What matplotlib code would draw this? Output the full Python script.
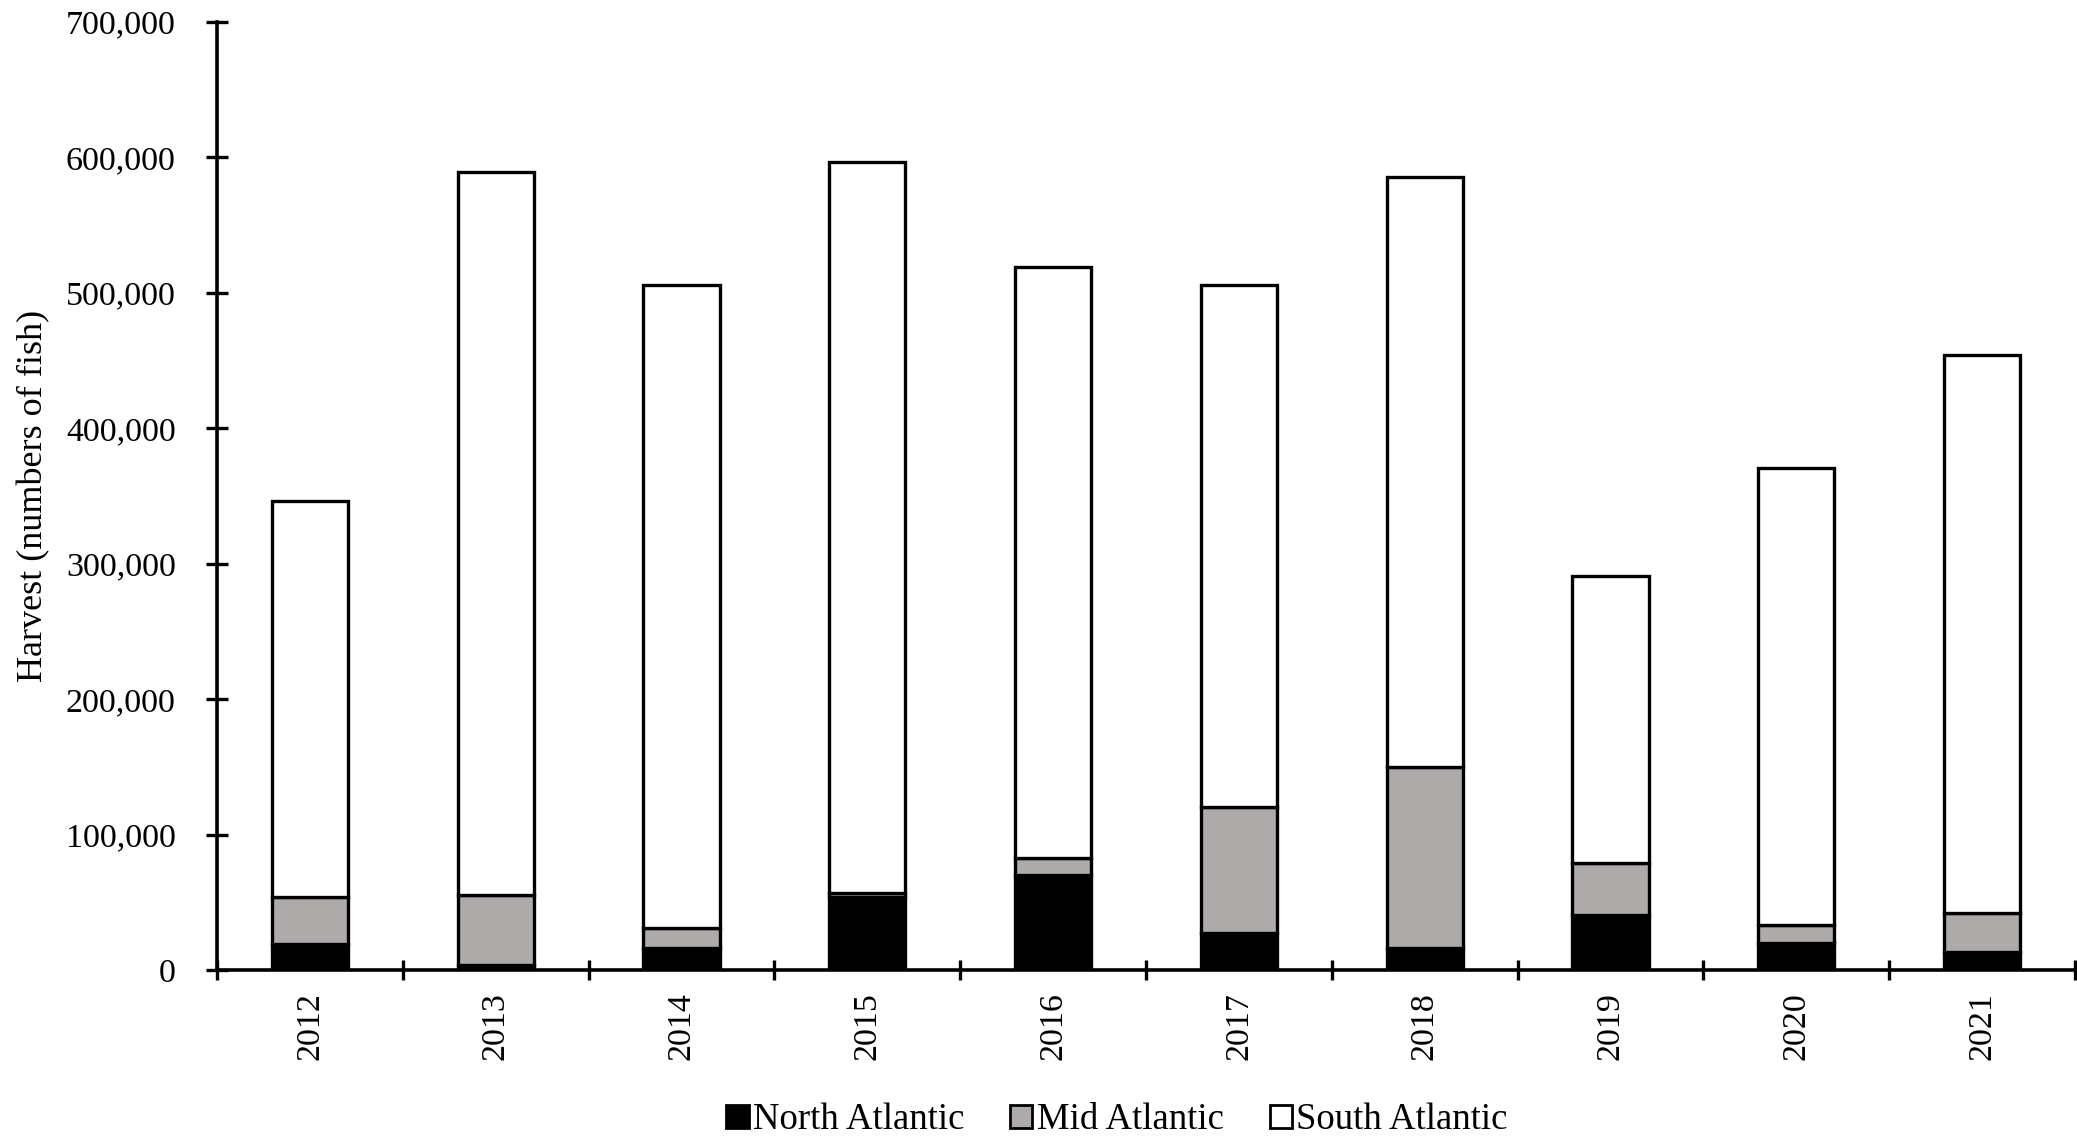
import numpy as np
import matplotlib
matplotlib.use('Agg')
import matplotlib.pyplot as plt
from matplotlib.patches import Patch
from matplotlib.ticker import FuncFormatter, FixedLocator

plt.rcParams['font.family'] = 'Liberation Serif'

years = ['2012', '2013', '2014', '2015', '2016', '2017', '2018', '2019', '2020', '2021']
north_atlantic = [19200, 3700, 16500, 53700, 70100, 27500, 16500, 40600, 19700, 13500]
mid_atlantic = [34500, 51700, 14700, 2900, 12800, 92600, 133500, 38100, 13500, 28300]
south_atlantic = [292700, 533800, 474300, 539900, 435700, 385400, 435500, 212300, 337500, 412100]

series_names = ['North Atlantic', 'Mid Atlantic', 'South Atlantic']
series_colors = ['#000000', '#AEAAAA', '#FFFFFF']

fig = plt.figure(figsize=(20.77, 11.36), dpi=100)
ax = fig.add_axes([0.1045, 0.1461, 0.8945, 0.8348])

x = np.arange(len(years))
width = 0.41
bottom = np.zeros(len(years))
for vals, color in zip([north_atlantic, mid_atlantic, south_atlantic], series_colors):
    ax.bar(x, vals, width, bottom=bottom, color=color, edgecolor='black', linewidth=2.4, zorder=3)
    bottom += np.array(vals)

ax.set_xlim(-0.5, len(years) - 0.5)
ax.set_ylim(0, 700000)
ax.set_yticks(np.arange(0, 700001, 100000))
ax.yaxis.set_major_formatter(FuncFormatter(lambda v, p: '{:,}'.format(int(v))))

ax.set_xticks(x)
ax.set_xticklabels(years, rotation=90)
ax.xaxis.set_minor_locator(FixedLocator(np.arange(-0.5, len(years), 1.0)))

for s in ['top', 'right']:
    ax.spines[s].set_visible(False)
for s in ['left', 'bottom']:
    ax.spines[s].set_linewidth(2.6)

ax.tick_params(axis='y', direction='inout', length=15.6, width=2.4, pad=22, labelsize=24.5)
ax.tick_params(axis='x', which='major', length=0, pad=16, labelsize=24.5)
ax.tick_params(axis='x', which='minor', direction='inout', length=15, width=2.4)

fig.text(34 / 2077, 1 - 496 / 1136, 'Harvest (numbers of fish)', rotation=90,
         ha='center', va='center', fontsize=26)

handles = [Patch(facecolor=c, edgecolor='black', linewidth=2) for c in series_colors]
fig.legend(handles, series_names, loc='center', bbox_to_anchor=(1117 / 2077, 1 - 1120 / 1136),
           ncol=3, frameon=False, fontsize=26.5, handlelength=0.6, handleheight=0.6,
           handletextpad=0.12, columnspacing=1.25)

fig.savefig('out.png', dpi=100)
